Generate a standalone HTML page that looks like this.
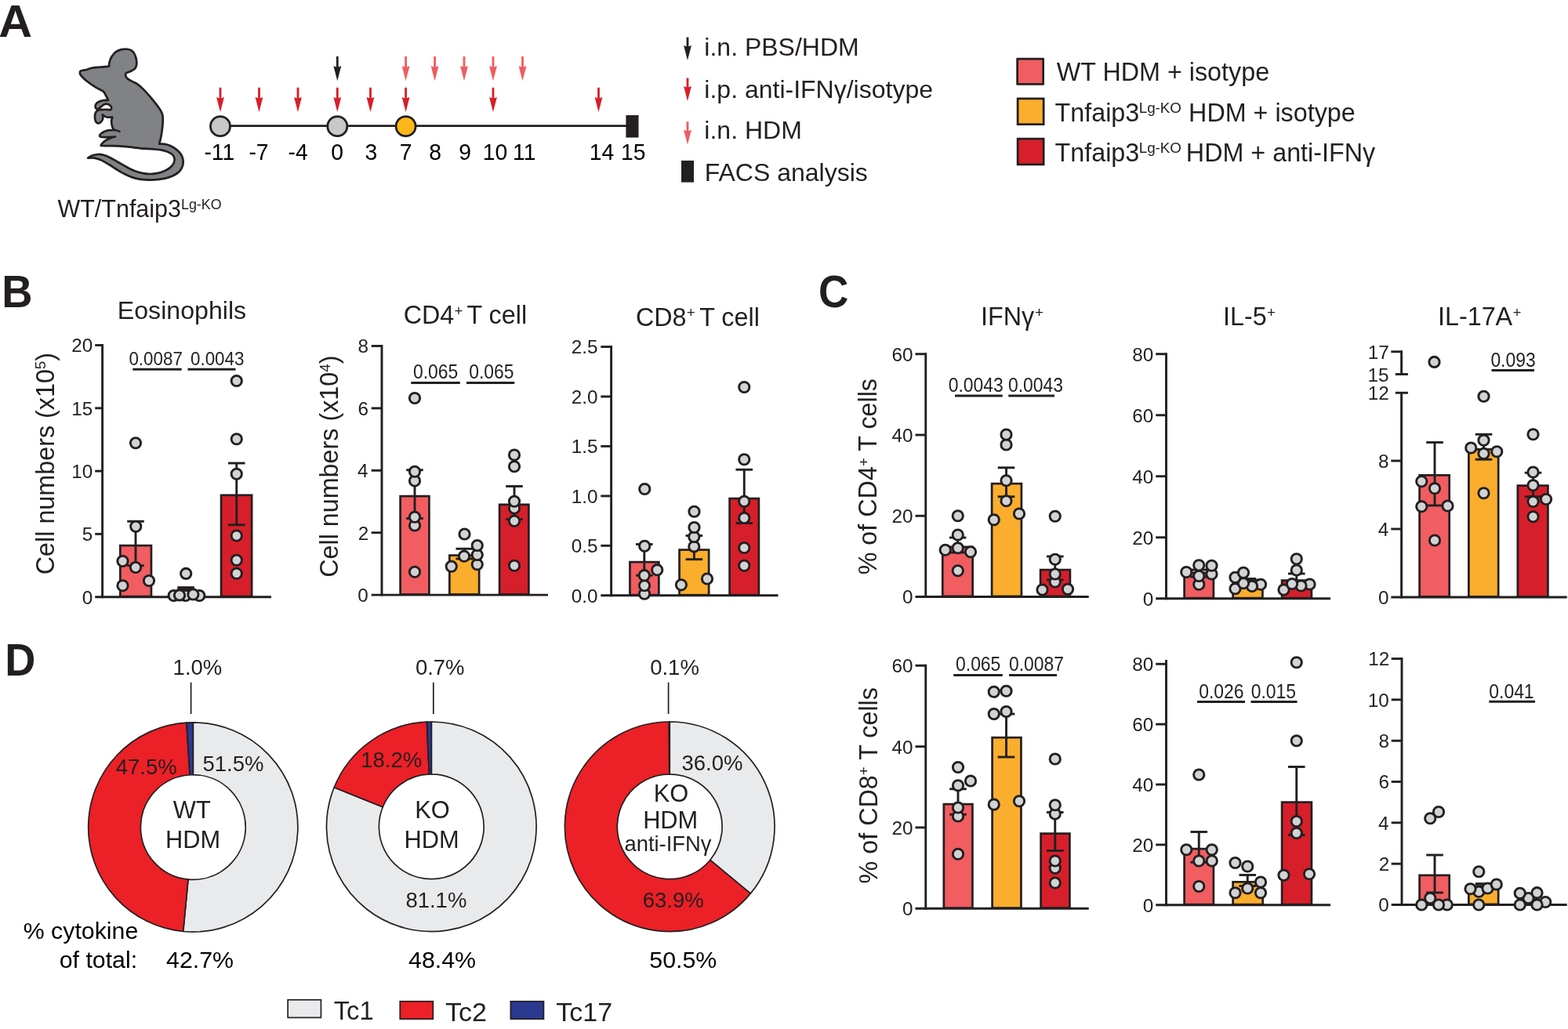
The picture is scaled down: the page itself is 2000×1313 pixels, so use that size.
<!DOCTYPE html>
<html lang="en">
<head>
<meta charset="utf-8">
<title>Figure</title>
<style>
html,body{margin:0;padding:0;background:#fff;}
body{width:2000px;height:1313px;overflow:hidden;}
svg{display:block;}
svg text{font-family:"Liberation Sans",sans-serif;fill:#231F20;}
</style>
</head>
<body>
<svg width="2000" height="1313" viewBox="0 0 2000 1313">
<rect x="0" y="0" width="2000" height="1313" fill="#ffffff"/>
<text transform="translate(-1.68 47.36) scale(1.0793 1.0418)" font-weight="bold" xml:space="preserve"><tspan x="0" y="0" font-size="54.9">A</tspan></text>
<text transform="translate(2.36 392.04) scale(0.9905 1.0457)" font-weight="bold" xml:space="preserve"><tspan x="0" y="0" font-size="54.9">B</tspan></text>
<text transform="translate(1043.97 392.32) scale(0.9675 1.0556)" font-weight="bold" xml:space="preserve"><tspan x="0" y="0" font-size="54.9">C</tspan></text>
<text transform="translate(6.14 861.8) scale(0.9873 1.0455)" font-weight="bold" xml:space="preserve"><tspan x="0" y="0" font-size="54.9">D</tspan></text>
<path d="M101.86 92.24 C102.06 91.95 102.3 90.94 103.02 90.51 C103.74 90.07 105 89.88 106.2 89.64 C107.41 89.4 108.61 89.49 110.25 89.06 C111.89 88.63 113.39 87.59 116.04 87.03 C118.69 86.48 123.27 86.05 126.17 85.73 C129.06 85.42 131.28 85.32 133.4 85.15 C135.52 84.98 137.98 84.79 138.9 84.72 C139.07 83.63 139.26 80.38 139.91 78.21 C140.56 76.04 141.48 73.7 142.8 71.7 C144.13 69.7 145.82 67.63 147.87 66.2 C149.92 64.78 152.69 63.74 155.1 63.16 C157.51 62.59 160.16 62.49 162.33 62.73 C164.5 62.97 166.53 63.48 168.12 64.61 C169.71 65.74 170.89 67.5 171.88 69.53 C172.87 71.56 173.69 74.47 174.05 76.76 C174.41 79.05 174.41 81.42 174.05 83.27 C173.69 85.13 173.11 86.62 171.88 87.9 C170.65 89.18 168.51 90.05 166.67 90.94 C164.84 91.83 161.85 92.87 160.89 93.25 C160.74 93.66 159.78 94.58 160.02 95.71 C160.26 96.85 160.98 98.73 162.33 100.05 C163.68 101.38 165.95 102.47 168.12 103.67 C170.29 104.88 172.94 105.62 175.35 107.29 C177.76 108.95 179.93 111.02 182.59 113.65 C185.24 116.28 188.37 119.68 191.27 123.06 C194.16 126.43 197.53 130.65 199.95 133.91 C202.36 137.16 204.45 140.17 205.73 142.59 C207.01 145 207.3 145.96 207.61 148.37 C207.93 150.78 207.78 153.92 207.61 157.05 C207.44 160.19 207.01 164.04 206.6 167.18 C206.19 170.31 205.73 173.11 205.15 175.86 C204.58 178.61 203.47 182.37 203.13 183.67 C204.29 183.69 207.71 183.43 210.07 183.82 C212.44 184.2 214.89 184.9 217.31 185.99 C219.72 187.07 222.37 188.64 224.54 190.33 C226.71 192.01 228.85 193.94 230.33 196.11 C231.8 198.28 232.88 200.93 233.36 203.35 C233.85 205.76 233.85 208.17 233.22 210.58 C232.59 212.99 231.29 215.74 229.6 217.81 C227.91 219.89 225.62 221.55 223.09 223.02 C220.56 224.49 217.79 225.67 214.41 226.64 C211.04 227.6 206.7 228.32 202.84 228.81 C198.98 229.29 195.12 229.53 191.27 229.53 C187.41 229.53 183.31 229.29 179.69 228.81 C176.08 228.32 172.94 227.72 169.57 226.64 C166.19 225.55 162.81 223.98 159.44 222.3 C156.06 220.61 152.69 218.56 149.31 216.51 C145.94 214.46 142.56 212.03 139.19 210 C135.81 207.97 132.19 205.76 129.06 204.36 C125.93 202.96 123.22 202.07 120.38 201.61 C117.53 201.15 113.39 201.61 111.99 201.61 C112.91 201.1 115.36 199.34 117.49 198.57 C119.61 197.8 122.31 197.12 124.72 196.98 C127.13 196.84 129.3 197 131.95 197.7 C134.61 198.4 137.5 199.63 140.63 201.18 C143.77 202.72 147.38 205.03 150.76 206.96 C154.14 208.89 157.51 210.94 160.89 212.75 C164.26 214.56 167.64 216.46 171.01 217.81 C174.39 219.16 177.76 220.15 181.14 220.85 C184.51 221.55 187.89 222.01 191.27 222.01 C194.64 222.01 198.26 221.53 201.39 220.85 C204.53 220.17 207.42 219.16 210.07 217.96 C212.72 216.75 215.38 215.28 217.31 213.62 C219.23 211.95 220.78 209.88 221.65 207.97 C222.51 206.07 222.83 204 222.51 202.19 C222.2 200.38 221.31 198.57 219.76 197.12 C218.22 195.68 215.59 194.47 213.25 193.51 C210.92 192.54 208.55 191.87 205.73 191.34 C202.91 190.81 197.9 190.49 196.33 190.33 C194.28 190.2 188.25 189.94 184.03 189.6 C179.81 189.26 175.35 188.76 171.01 188.3 C166.67 187.84 162.33 187.22 157.99 186.85 C153.65 186.49 148.83 186.25 144.97 186.13 C141.12 186.01 137.55 186.15 134.85 186.13 C132.15 186.11 129.78 186.01 128.77 185.99 L128.85 186 C128.86 185.83 128.5 185.67 128.9 185 C129.3 184.33 130.07 183.08 131.25 182 C132.43 180.92 134.29 179.52 136 178.5 C137.71 177.48 139.67 176.57 141.5 175.9 C143.33 175.23 146.08 174.73 147 174.5 C145.97 174.57 142.97 174.8 140.8 174.9 C138.63 175 136.03 175.13 134 175.1 C131.97 175.07 129.75 175.05 128.6 174.7 C127.45 174.35 127 173.73 127.1 173 C127.2 172.27 128.05 171.2 129.2 170.3 C130.35 169.4 132.28 168.28 134 167.6 C135.72 166.92 137.5 166.47 139.5 166.2 C141.5 165.93 144.92 166.03 146 166 C145.67 165.6 144.57 164.72 144 163.6 C143.43 162.48 142.9 160.92 142.6 159.3 C142.3 157.68 142.07 155.53 142.2 153.9 C142.33 152.27 143.2 150.23 143.4 149.5 C142.4 149.53 138.97 149.85 137.4 149.7 C135.83 149.55 135.12 149.17 134 148.6 C132.88 148.03 131.25 146.68 130.7 146.3 C130.8 146.87 131.32 148.55 131.3 149.7 C131.28 150.85 131.18 152.1 130.6 153.2 C130.02 154.3 128.78 155.62 127.8 156.3 C126.82 156.98 125.62 157.48 124.7 157.3 C123.78 157.12 122.9 156.23 122.3 155.2 C121.7 154.17 121.27 152.72 121.1 151.1 C120.93 149.48 120.92 147.05 121.3 145.5 C121.68 143.95 122.52 142.67 123.4 141.8 C124.28 140.93 125.33 140.63 126.6 140.3 C127.87 139.97 129.43 139.88 131 139.8 C132.57 139.72 134.28 139.75 136 139.8 C137.72 139.85 140.42 140.05 141.3 140.1 C141.45 139.72 142.28 138.68 142.2 137.8 C142.12 136.93 141.53 135.65 140.8 134.85 C140.08 134.05 138.8 133.38 137.85 133 C136.9 132.62 136.06 132.48 135.1 132.6 C134.14 132.72 133.08 133.13 132.1 133.7 C131.12 134.27 130.15 135.23 129.2 136 C128.25 136.77 127.25 137.77 126.4 138.3 C125.55 138.83 124.78 139.22 124.1 139.2 C123.42 139.18 122.72 138.73 122.3 138.2 C121.88 137.67 121.6 136.83 121.6 136 C121.6 135.17 121.8 134.08 122.3 133.2 C122.8 132.32 123.53 131.42 124.6 130.7 C125.67 129.98 127.25 129.37 128.7 128.9 C130.15 128.43 131.75 128.08 133.3 127.9 C134.85 127.72 137.22 127.82 138 127.8 C137.67 127.12 136.9 125.4 136 123.7 C135.1 122 133.48 118.92 132.6 117.6 C131.72 116.28 131.02 116.1 130.7 115.8 L130.65 115.82 C129.9 115.46 128.12 114.74 126.17 113.65 C124.21 112.57 121.34 110.88 118.93 109.31 C116.52 107.75 113.87 105.94 111.7 104.25 C109.53 102.56 107.46 100.71 105.91 99.19 C104.37 97.67 103.12 96.29 102.44 95.14 C101.77 93.98 101.96 92.72 101.86 92.24 Z" fill="#808285" stroke="#231F20" stroke-width="2.7" stroke-linejoin="round"/>
<path d="M146 166 C146.58 166.1 148.23 166.25 149.5 166.6 C150.77 166.95 152.92 167.85 153.6 168.1" fill="none" stroke="#231F20" stroke-width="2.5" stroke-linecap="butt"/>
<text transform="translate(73.41 276.6) scale(1.0000 1.0000)" xml:space="preserve"><tspan x="0" y="0" font-size="30.5">WT/Tnfaip3</tspan><tspan x="157.56" y="-9.96" font-size="17.9">Lg-KO</tspan></text>
<line x1="281" y1="160.6" x2="806" y2="160.6" stroke="#231F20" stroke-width="2.7" stroke-linecap="butt"/>
<circle cx="281" cy="161.2" r="12.5" fill="#C7C8CA" stroke="#231F20" stroke-width="2.8"/>
<circle cx="430.3" cy="161.2" r="12.5" fill="#C7C8CA" stroke="#231F20" stroke-width="2.8"/>
<circle cx="517.6" cy="161.2" r="12.5" fill="#FDB71A" stroke="#231F20" stroke-width="2.8"/>
<rect x="798.4" y="147" width="16.1" height="28.5" fill="#231F20"/>
<path d="M279.6 111.7 H282.4 V125.3 L285.9 124.1 L281 143 L276.1 124.1 L279.6 125.3 Z" fill="#D71F2B"/>
<path d="M329.1 111.7 H331.9 V125.3 L335.4 124.1 L330.5 143 L325.6 124.1 L329.1 125.3 Z" fill="#D71F2B"/>
<path d="M378.6 111.7 H381.4 V125.3 L384.9 124.1 L380 143 L375.1 124.1 L378.6 125.3 Z" fill="#D71F2B"/>
<path d="M428.9 111.7 H431.7 V125.3 L435.2 124.1 L430.3 143 L425.4 124.1 L428.9 125.3 Z" fill="#D71F2B"/>
<path d="M471.1 111.7 H473.9 V125.3 L477.4 124.1 L472.5 143 L467.6 124.1 L471.1 125.3 Z" fill="#D71F2B"/>
<path d="M516.2 111.7 H519 V125.3 L522.5 124.1 L517.6 143 L512.7 124.1 L516.2 125.3 Z" fill="#D71F2B"/>
<path d="M627.6 111.7 H630.4 V125.3 L633.9 124.1 L629 143 L624.1 124.1 L627.6 125.3 Z" fill="#D71F2B"/>
<path d="M762.1 111.7 H764.9 V125.3 L768.4 124.1 L763.5 143 L758.6 124.1 L762.1 125.3 Z" fill="#D71F2B"/>
<path d="M428.9 71.9 H431.7 V85.5 L435.2 84.3 L430.3 103.2 L425.4 84.3 L428.9 85.5 Z" fill="#231F20"/>
<path d="M516.2 71.9 H519 V85.5 L522.5 84.3 L517.6 103.2 L512.7 84.3 L516.2 85.5 Z" fill="#F15B5F"/>
<path d="M553.2 71.9 H556 V85.5 L559.5 84.3 L554.6 103.2 L549.7 84.3 L553.2 85.5 Z" fill="#F15B5F"/>
<path d="M590.6 71.9 H593.4 V85.5 L596.9 84.3 L592 103.2 L587.1 84.3 L590.6 85.5 Z" fill="#F15B5F"/>
<path d="M627.6 71.9 H630.4 V85.5 L633.9 84.3 L629 103.2 L624.1 84.3 L627.6 85.5 Z" fill="#F15B5F"/>
<path d="M665.1 71.9 H667.9 V85.5 L671.4 84.3 L666.5 103.2 L661.6 84.3 L665.1 85.5 Z" fill="#F15B5F"/>
<text transform="translate(260.43 204.2) scale(1.0000 1.0500)" style="fill:#000" xml:space="preserve"><tspan x="0" y="0" font-size="28.3">-11</tspan></text>
<text transform="translate(317.43 204.2) scale(1.0000 1.0500)" style="fill:#000" xml:space="preserve"><tspan x="0" y="0" font-size="28.3">-7</tspan></text>
<text transform="translate(367.53 204.2) scale(1.0000 1.0500)" style="fill:#000" xml:space="preserve"><tspan x="0" y="0" font-size="28.3">-4</tspan></text>
<text transform="translate(422.31 204.2) scale(1.0000 1.0500)" style="fill:#000" xml:space="preserve"><tspan x="0" y="0" font-size="28.3">0</tspan></text>
<text transform="translate(465.52 204.2) scale(1.0000 1.0500)" style="fill:#000" xml:space="preserve"><tspan x="0" y="0" font-size="28.3">3</tspan></text>
<text transform="translate(509.65 204.2) scale(1.0000 1.0500)" style="fill:#000" xml:space="preserve"><tspan x="0" y="0" font-size="28.3">7</tspan></text>
<text transform="translate(547.35 204.2) scale(1.0000 1.0500)" style="fill:#000" xml:space="preserve"><tspan x="0" y="0" font-size="28.3">8</tspan></text>
<text transform="translate(585.31 204.2) scale(1.0000 1.0500)" style="fill:#000" xml:space="preserve"><tspan x="0" y="0" font-size="28.3">9</tspan></text>
<text transform="translate(615.85 204.2) scale(1.0000 1.0500)" style="fill:#000" xml:space="preserve"><tspan x="0" y="0" font-size="28.3">10</tspan></text>
<text transform="translate(654.03 204.2) scale(1.0000 1.0500)" style="fill:#000" xml:space="preserve"><tspan x="0" y="0" font-size="28.3">11</tspan></text>
<text transform="translate(751.87 204.2) scale(1.0000 1.0500)" style="fill:#000" xml:space="preserve"><tspan x="0" y="0" font-size="28.3">14</tspan></text>
<text transform="translate(792.02 204.2) scale(1.0000 1.0500)" style="fill:#000" xml:space="preserve"><tspan x="0" y="0" font-size="28.3">15</tspan></text>
<path d="M875.6 47.5 H878.4 V59.2 L881.9 58 L877 76.9 L872.1 58 L875.6 59.2 Z" fill="#231F20"/>
<path d="M875.6 99.6 H878.4 V111.3 L881.9 110.1 L877 129 L872.1 110.1 L875.6 111.3 Z" fill="#D71F2B"/>
<path d="M875.6 155.2 H878.4 V166.9 L881.9 165.7 L877 184.6 L872.1 165.7 L875.6 166.9 Z" fill="#F15B5F"/>
<rect x="869" y="204.9" width="16" height="27.7" fill="#231F20"/>
<text transform="translate(898.34 70.85) scale(1.0000 1.0000)" xml:space="preserve"><tspan x="0" y="0" font-size="32">i.n. PBS/HDM</tspan></text>
<text transform="translate(898.34 125.25) scale(1.0000 1.0000)" xml:space="preserve"><tspan x="0" y="0" font-size="32">i.p. anti-IFN&#947;/isotype</tspan></text>
<text transform="translate(898.34 176.55) scale(1.0000 1.0000)" xml:space="preserve"><tspan x="0" y="0" font-size="32">i.n. HDM</tspan></text>
<text transform="translate(898.66 230.95) scale(1.0000 1.0000)" xml:space="preserve"><tspan x="0" y="0" font-size="32">FACS analysis</tspan></text>
<rect x="1297.6" y="75.1" width="33.05" height="32.3" fill="#F15D61" stroke="#231F20" stroke-width="2.7" stroke-linejoin="round"/>
<rect x="1298.1" y="125.85" width="33.05" height="32.8" fill="#FBAE2D" stroke="#231F20" stroke-width="2.7"/>
<rect x="1298.1" y="177.1" width="33.05" height="32.8" fill="#D61F2A" stroke="#231F20" stroke-width="2.7"/>
<text transform="translate(1347.84 103.25) scale(1.0000 1.0000)" xml:space="preserve"><tspan x="0" y="0" font-size="32.3">WT HDM + isotype</tspan></text>
<text transform="translate(1345.52 154.5) scale(1.0000 1.0000)" xml:space="preserve"><tspan x="0" y="0" font-size="32.3">Tnfaip3</tspan><tspan x="107.18" y="-10.3" font-size="18.8">Lg-KO</tspan><tspan x="161.58" y="0" font-size="32.3"> HDM + isotype</tspan></text>
<text transform="translate(1345.52 205.5) scale(1.0000 1.0000)" xml:space="preserve"><tspan x="0" y="0" font-size="32.3">Tnfaip3</tspan><tspan x="107.18" y="-10.3" font-size="18.8">Lg-KO </tspan><tspan x="167.31" y="0" font-size="32.3">HDM + anti-IFN&#947;</tspan></text>
<text transform="translate(149.75 406.8) scale(1.0000 1.0000)" xml:space="preserve"><tspan x="0" y="0" font-size="32.15">Eosinophils</tspan></text>
<text transform="translate(68.5 733.22) rotate(-90) scale(1.0000 1.0000)" xml:space="preserve"><tspan x="0" y="0" font-size="32.3">Cell numbers (x10</tspan><tspan x="262.1" y="-10.3" font-size="18.8">5</tspan><tspan x="272.55" y="0" font-size="32.3">)</tspan></text>
<rect x="153.35" y="696.1" width="39.6" height="65" fill="#F15D61" stroke="#231F20" stroke-width="2.7"/>
<rect x="282.05" y="631.85" width="39.1" height="129.25" fill="#D61F2A" stroke="#231F20" stroke-width="2.7"/>
<line x1="173" y1="665.25" x2="173" y2="721.75" stroke="#231F20" stroke-width="2.9" stroke-linecap="butt"/>
<line x1="162.2" y1="665.25" x2="183.8" y2="665.25" stroke="#231F20" stroke-width="2.9" stroke-linecap="butt"/>
<line x1="162.2" y1="721.75" x2="183.8" y2="721.75" stroke="#231F20" stroke-width="2.9" stroke-linecap="butt"/>
<line x1="237.1" y1="749.6" x2="237.1" y2="752.2" stroke="#231F20" stroke-width="2.9" stroke-linecap="butt"/>
<line x1="226.3" y1="749.6" x2="247.9" y2="749.6" stroke="#231F20" stroke-width="2.9" stroke-linecap="butt"/>
<line x1="226.3" y1="752.2" x2="247.9" y2="752.2" stroke="#231F20" stroke-width="2.9" stroke-linecap="butt"/>
<line x1="301.75" y1="591" x2="301.75" y2="669.75" stroke="#231F20" stroke-width="2.9" stroke-linecap="butt"/>
<line x1="290.95" y1="591" x2="312.55" y2="591" stroke="#231F20" stroke-width="2.9" stroke-linecap="butt"/>
<line x1="290.95" y1="669.75" x2="312.55" y2="669.75" stroke="#231F20" stroke-width="2.9" stroke-linecap="butt"/>
<line x1="130.6" y1="439.05" x2="130.6" y2="763.15" stroke="#231F20" stroke-width="2.9" stroke-linecap="butt"/>
<line x1="121.2" y1="761.7" x2="346" y2="761.7" stroke="#231F20" stroke-width="2.9" stroke-linecap="butt"/>
<line x1="121.2" y1="440.5" x2="130.6" y2="440.5" stroke="#231F20" stroke-width="2.9" stroke-linecap="butt"/>
<text transform="translate(91.24 449.4) scale(1.0000 1.0000)" xml:space="preserve"><tspan x="0" y="0" font-size="24.3">20</tspan></text>
<line x1="121.2" y1="520.8" x2="130.6" y2="520.8" stroke="#231F20" stroke-width="2.9" stroke-linecap="butt"/>
<text transform="translate(91.3 529.7) scale(1.0000 1.0000)" xml:space="preserve"><tspan x="0" y="0" font-size="24.3">15</tspan></text>
<line x1="121.2" y1="601.1" x2="130.6" y2="601.1" stroke="#231F20" stroke-width="2.9" stroke-linecap="butt"/>
<text transform="translate(91.24 610) scale(1.0000 1.0000)" xml:space="preserve"><tspan x="0" y="0" font-size="24.3">10</tspan></text>
<line x1="121.2" y1="681.4" x2="130.6" y2="681.4" stroke="#231F20" stroke-width="2.9" stroke-linecap="butt"/>
<text transform="translate(104.79 690.3) scale(1.0000 1.0000)" xml:space="preserve"><tspan x="0" y="0" font-size="24.3">5</tspan></text>
<text transform="translate(104.72 770.6) scale(1.0000 1.0000)" xml:space="preserve"><tspan x="0" y="0" font-size="24.3">0</tspan></text>
<circle cx="173" cy="565.25" r="6.65" fill="#D1D3D4" stroke="#231F20" stroke-width="2.9"/>
<circle cx="156.5" cy="747.25" r="6.65" fill="#D1D3D4" stroke="#231F20" stroke-width="2.9"/>
<circle cx="190" cy="741" r="6.65" fill="#D1D3D4" stroke="#231F20" stroke-width="2.9"/>
<circle cx="173" cy="724" r="6.65" fill="#D1D3D4" stroke="#231F20" stroke-width="2.9"/>
<circle cx="156.5" cy="716" r="6.65" fill="#D1D3D4" stroke="#231F20" stroke-width="2.9"/>
<circle cx="173.25" cy="671.75" r="6.65" fill="#D1D3D4" stroke="#231F20" stroke-width="2.9"/>
<circle cx="221.7" cy="760" r="6.65" fill="#D1D3D4" stroke="#231F20" stroke-width="2.9"/>
<circle cx="236.6" cy="760" r="6.65" fill="#D1D3D4" stroke="#231F20" stroke-width="2.9"/>
<circle cx="254.3" cy="760" r="6.65" fill="#D1D3D4" stroke="#231F20" stroke-width="2.9"/>
<circle cx="229" cy="759.4" r="6.65" fill="#D1D3D4" stroke="#231F20" stroke-width="2.9"/>
<circle cx="246.4" cy="758.5" r="6.65" fill="#D1D3D4" stroke="#231F20" stroke-width="2.9"/>
<circle cx="237.2" cy="731.9" r="6.65" fill="#D1D3D4" stroke="#231F20" stroke-width="2.9"/>
<circle cx="301.75" cy="731.75" r="6.65" fill="#D1D3D4" stroke="#231F20" stroke-width="2.9"/>
<circle cx="301.75" cy="714.75" r="6.65" fill="#D1D3D4" stroke="#231F20" stroke-width="2.9"/>
<circle cx="301.75" cy="683.5" r="6.65" fill="#D1D3D4" stroke="#231F20" stroke-width="2.9"/>
<circle cx="301.75" cy="604.75" r="6.65" fill="#D1D3D4" stroke="#231F20" stroke-width="2.9"/>
<circle cx="301.75" cy="560.25" r="6.65" fill="#D1D3D4" stroke="#231F20" stroke-width="2.9"/>
<circle cx="301.75" cy="486" r="6.65" fill="#D1D3D4" stroke="#231F20" stroke-width="2.9"/>
<text transform="translate(164.42 465.55) scale(1.0000 1.0400)" xml:space="preserve"><tspan x="0" y="0" font-size="22.4">0.0087</tspan></text>
<line x1="169.3" y1="471.2" x2="231.7" y2="471.2" stroke="#231F20" stroke-width="2.9" stroke-linecap="butt"/>
<text transform="translate(242.98 465.55) scale(1.0000 1.0400)" xml:space="preserve"><tspan x="0" y="0" font-size="22.4">0.0043</tspan></text>
<line x1="239.5" y1="471.2" x2="300.5" y2="471.2" stroke="#231F20" stroke-width="2.9" stroke-linecap="butt"/>
<text transform="translate(514.63 413) scale(1.0000 1.0000)" xml:space="preserve"><tspan x="0" y="0" font-size="32.3">CD4</tspan><tspan x="64.97" y="-10.3" font-size="18.8">+ </tspan><tspan x="80.89" y="0" font-size="32.3">T cell</tspan></text>
<text transform="translate(431.3 736.82) rotate(-90) scale(1.0000 1.0000)" xml:space="preserve"><tspan x="0" y="0" font-size="32.3">Cell numbers (x10</tspan><tspan x="262.1" y="-10.3" font-size="18.8">4</tspan><tspan x="272.55" y="0" font-size="32.3">)</tspan></text>
<rect x="510.6" y="633.1" width="36.8" height="125.4" fill="#F15D61" stroke="#231F20" stroke-width="2.7"/>
<rect x="573.35" y="708.6" width="37.8" height="49.9" fill="#FBAE2D" stroke="#231F20" stroke-width="2.7"/>
<rect x="637.1" y="643.85" width="37.3" height="114.65" fill="#D61F2A" stroke="#231F20" stroke-width="2.7"/>
<line x1="529" y1="599.75" x2="529" y2="661.5" stroke="#231F20" stroke-width="2.9" stroke-linecap="butt"/>
<line x1="518.2" y1="599.75" x2="539.8" y2="599.75" stroke="#231F20" stroke-width="2.9" stroke-linecap="butt"/>
<line x1="518.2" y1="661.5" x2="539.8" y2="661.5" stroke="#231F20" stroke-width="2.9" stroke-linecap="butt"/>
<line x1="592.25" y1="700.25" x2="592.25" y2="713" stroke="#231F20" stroke-width="2.9" stroke-linecap="butt"/>
<line x1="581.45" y1="700.25" x2="603.05" y2="700.25" stroke="#231F20" stroke-width="2.9" stroke-linecap="butt"/>
<line x1="581.45" y1="713" x2="603.05" y2="713" stroke="#231F20" stroke-width="2.9" stroke-linecap="butt"/>
<line x1="656" y1="620.5" x2="656" y2="662.5" stroke="#231F20" stroke-width="2.9" stroke-linecap="butt"/>
<line x1="645.2" y1="620.5" x2="666.8" y2="620.5" stroke="#231F20" stroke-width="2.9" stroke-linecap="butt"/>
<line x1="645.2" y1="662.5" x2="666.8" y2="662.5" stroke="#231F20" stroke-width="2.9" stroke-linecap="butt"/>
<line x1="487" y1="440.05" x2="487" y2="760.55" stroke="#231F20" stroke-width="2.9" stroke-linecap="butt"/>
<line x1="473.7" y1="759.1" x2="699" y2="759.1" stroke="#231F20" stroke-width="2.9" stroke-linecap="butt"/>
<line x1="473.7" y1="441.5" x2="487" y2="441.5" stroke="#231F20" stroke-width="2.9" stroke-linecap="butt"/>
<text transform="translate(456.45 450.4) scale(1.0000 1.0000)" xml:space="preserve"><tspan x="0" y="0" font-size="24.3">8</tspan></text>
<line x1="473.7" y1="520.9" x2="487" y2="520.9" stroke="#231F20" stroke-width="2.9" stroke-linecap="butt"/>
<text transform="translate(456.45 529.8) scale(1.0000 1.0000)" xml:space="preserve"><tspan x="0" y="0" font-size="24.3">6</tspan></text>
<line x1="473.7" y1="600.3" x2="487" y2="600.3" stroke="#231F20" stroke-width="2.9" stroke-linecap="butt"/>
<text transform="translate(456.08 609.2) scale(1.0000 1.0000)" xml:space="preserve"><tspan x="0" y="0" font-size="24.3">4</tspan></text>
<line x1="473.7" y1="679.7" x2="487" y2="679.7" stroke="#231F20" stroke-width="2.9" stroke-linecap="butt"/>
<text transform="translate(456.63 688.6) scale(1.0000 1.0000)" xml:space="preserve"><tspan x="0" y="0" font-size="24.3">2</tspan></text>
<text transform="translate(456.32 768) scale(1.0000 1.0000)" xml:space="preserve"><tspan x="0" y="0" font-size="24.3">0</tspan></text>
<circle cx="529" cy="508" r="6.65" fill="#D1D3D4" stroke="#231F20" stroke-width="2.9"/>
<circle cx="529" cy="729.75" r="6.65" fill="#D1D3D4" stroke="#231F20" stroke-width="2.9"/>
<circle cx="529" cy="670.5" r="6.65" fill="#D1D3D4" stroke="#231F20" stroke-width="2.9"/>
<circle cx="529" cy="659.75" r="6.65" fill="#D1D3D4" stroke="#231F20" stroke-width="2.9"/>
<circle cx="529" cy="613.5" r="6.65" fill="#D1D3D4" stroke="#231F20" stroke-width="2.9"/>
<circle cx="529" cy="601.75" r="6.65" fill="#D1D3D4" stroke="#231F20" stroke-width="2.9"/>
<circle cx="575.75" cy="722.75" r="6.65" fill="#D1D3D4" stroke="#231F20" stroke-width="2.9"/>
<circle cx="608.75" cy="720.25" r="6.65" fill="#D1D3D4" stroke="#231F20" stroke-width="2.9"/>
<circle cx="608.75" cy="708" r="6.65" fill="#D1D3D4" stroke="#231F20" stroke-width="2.9"/>
<circle cx="592" cy="709.75" r="6.65" fill="#D1D3D4" stroke="#231F20" stroke-width="2.9"/>
<circle cx="608.75" cy="696" r="6.65" fill="#D1D3D4" stroke="#231F20" stroke-width="2.9"/>
<circle cx="592.5" cy="681.5" r="6.65" fill="#D1D3D4" stroke="#231F20" stroke-width="2.9"/>
<circle cx="656" cy="721.75" r="6.65" fill="#D1D3D4" stroke="#231F20" stroke-width="2.9"/>
<circle cx="656" cy="664.75" r="6.65" fill="#D1D3D4" stroke="#231F20" stroke-width="2.9"/>
<circle cx="656" cy="648.5" r="6.65" fill="#D1D3D4" stroke="#231F20" stroke-width="2.9"/>
<circle cx="656" cy="639.75" r="6.65" fill="#D1D3D4" stroke="#231F20" stroke-width="2.9"/>
<circle cx="656" cy="595.25" r="6.65" fill="#D1D3D4" stroke="#231F20" stroke-width="2.9"/>
<circle cx="656" cy="580.5" r="6.65" fill="#D1D3D4" stroke="#231F20" stroke-width="2.9"/>
<text transform="translate(526.95 482.8) scale(1.0000 1.0900)" xml:space="preserve"><tspan x="0" y="0" font-size="22.9">0.065</tspan></text>
<line x1="524.25" y1="488.5" x2="586.75" y2="488.5" stroke="#231F20" stroke-width="2.9" stroke-linecap="butt"/>
<text transform="translate(598.25 482.8) scale(1.0000 1.0900)" xml:space="preserve"><tspan x="0" y="0" font-size="22.9">0.065</tspan></text>
<line x1="595" y1="488.5" x2="656.25" y2="488.5" stroke="#231F20" stroke-width="2.9" stroke-linecap="butt"/>
<text transform="translate(810.88 415.75) scale(1.0000 1.0000)" xml:space="preserve"><tspan x="0" y="0" font-size="32.3">CD8</tspan><tspan x="64.97" y="-10.3" font-size="18.8">+ </tspan><tspan x="81.39" y="0" font-size="32.3">T cell</tspan></text>
<rect x="803.45" y="717.15" width="36.9" height="42.05" fill="#F15D61" stroke="#231F20" stroke-width="2.7"/>
<rect x="866.55" y="701.55" width="37.6" height="57.65" fill="#FBAE2D" stroke="#231F20" stroke-width="2.7"/>
<rect x="930.6" y="636.1" width="37.3" height="123.1" fill="#D61F2A" stroke="#231F20" stroke-width="2.7"/>
<line x1="821.8" y1="694.5" x2="821.8" y2="734.2" stroke="#231F20" stroke-width="2.9" stroke-linecap="butt"/>
<line x1="811" y1="694.5" x2="832.6" y2="694.5" stroke="#231F20" stroke-width="2.9" stroke-linecap="butt"/>
<line x1="811" y1="734.2" x2="832.6" y2="734.2" stroke="#231F20" stroke-width="2.9" stroke-linecap="butt"/>
<line x1="885.4" y1="683.5" x2="885.4" y2="713.7" stroke="#231F20" stroke-width="2.9" stroke-linecap="butt"/>
<line x1="874.6" y1="683.5" x2="896.2" y2="683.5" stroke="#231F20" stroke-width="2.9" stroke-linecap="butt"/>
<line x1="874.6" y1="713.7" x2="896.2" y2="713.7" stroke="#231F20" stroke-width="2.9" stroke-linecap="butt"/>
<line x1="949.25" y1="599.25" x2="949.25" y2="667.5" stroke="#231F20" stroke-width="2.9" stroke-linecap="butt"/>
<line x1="938.45" y1="599.25" x2="960.05" y2="599.25" stroke="#231F20" stroke-width="2.9" stroke-linecap="butt"/>
<line x1="938.45" y1="667.5" x2="960.05" y2="667.5" stroke="#231F20" stroke-width="2.9" stroke-linecap="butt"/>
<line x1="779.6" y1="441.05" x2="779.6" y2="761.25" stroke="#231F20" stroke-width="2.9" stroke-linecap="butt"/>
<line x1="766.3" y1="759.8" x2="992.5" y2="759.8" stroke="#231F20" stroke-width="2.9" stroke-linecap="butt"/>
<line x1="766.3" y1="442.5" x2="779.6" y2="442.5" stroke="#231F20" stroke-width="2.9" stroke-linecap="butt"/>
<text transform="translate(728.7 451.4) scale(1.0000 1.0000)" xml:space="preserve"><tspan x="0" y="0" font-size="24.3">2.5</tspan></text>
<line x1="766.3" y1="506" x2="779.6" y2="506" stroke="#231F20" stroke-width="2.9" stroke-linecap="butt"/>
<text transform="translate(728.63 514.9) scale(1.0000 1.0000)" xml:space="preserve"><tspan x="0" y="0" font-size="24.3">2.0</tspan></text>
<line x1="766.3" y1="569.4" x2="779.6" y2="569.4" stroke="#231F20" stroke-width="2.9" stroke-linecap="butt"/>
<text transform="translate(728.7 578.3) scale(1.0000 1.0000)" xml:space="preserve"><tspan x="0" y="0" font-size="24.3">1.5</tspan></text>
<line x1="766.3" y1="632.9" x2="779.6" y2="632.9" stroke="#231F20" stroke-width="2.9" stroke-linecap="butt"/>
<text transform="translate(728.63 641.8) scale(1.0000 1.0000)" xml:space="preserve"><tspan x="0" y="0" font-size="24.3">1.0</tspan></text>
<line x1="766.3" y1="696.3" x2="779.6" y2="696.3" stroke="#231F20" stroke-width="2.9" stroke-linecap="butt"/>
<text transform="translate(728.7 705.2) scale(1.0000 1.0000)" xml:space="preserve"><tspan x="0" y="0" font-size="24.3">0.5</tspan></text>
<text transform="translate(728.63 768.7) scale(1.0000 1.0000)" xml:space="preserve"><tspan x="0" y="0" font-size="24.3">0.0</tspan></text>
<circle cx="822.25" cy="624" r="6.65" fill="#D1D3D4" stroke="#231F20" stroke-width="2.9"/>
<circle cx="822" cy="757.7" r="6.65" fill="#D1D3D4" stroke="#231F20" stroke-width="2.9"/>
<circle cx="822" cy="747.2" r="6.65" fill="#D1D3D4" stroke="#231F20" stroke-width="2.9"/>
<circle cx="821.8" cy="734.2" r="6.65" fill="#D1D3D4" stroke="#231F20" stroke-width="2.9"/>
<circle cx="838.25" cy="727.2" r="6.65" fill="#D1D3D4" stroke="#231F20" stroke-width="2.9"/>
<circle cx="822.2" cy="696.75" r="6.65" fill="#D1D3D4" stroke="#231F20" stroke-width="2.9"/>
<circle cx="868.9" cy="746.3" r="6.65" fill="#D1D3D4" stroke="#231F20" stroke-width="2.9"/>
<circle cx="902" cy="738.5" r="6.65" fill="#D1D3D4" stroke="#231F20" stroke-width="2.9"/>
<circle cx="885.3" cy="697.4" r="6.65" fill="#D1D3D4" stroke="#231F20" stroke-width="2.9"/>
<circle cx="885.3" cy="685" r="6.65" fill="#D1D3D4" stroke="#231F20" stroke-width="2.9"/>
<circle cx="885.5" cy="673" r="6.65" fill="#D1D3D4" stroke="#231F20" stroke-width="2.9"/>
<circle cx="885.5" cy="652.75" r="6.65" fill="#D1D3D4" stroke="#231F20" stroke-width="2.9"/>
<circle cx="949.25" cy="721.75" r="6.65" fill="#D1D3D4" stroke="#231F20" stroke-width="2.9"/>
<circle cx="949.25" cy="699" r="6.65" fill="#D1D3D4" stroke="#231F20" stroke-width="2.9"/>
<circle cx="949.25" cy="661" r="6.65" fill="#D1D3D4" stroke="#231F20" stroke-width="2.9"/>
<circle cx="949.25" cy="639.75" r="6.65" fill="#D1D3D4" stroke="#231F20" stroke-width="2.9"/>
<circle cx="949.25" cy="586.25" r="6.65" fill="#D1D3D4" stroke="#231F20" stroke-width="2.9"/>
<circle cx="949.25" cy="494" r="6.65" fill="#D1D3D4" stroke="#231F20" stroke-width="2.9"/>
<text transform="translate(1251.01 415) scale(1.0000 1.0000)" xml:space="preserve"><tspan x="0" y="0" font-size="32.3">IFN&#947;</tspan><tspan x="69.09" y="-10.3" font-size="18.8">+</tspan></text>
<text transform="translate(1117.8 733.33) rotate(-90) scale(1.0000 1.0000)" xml:space="preserve"><tspan x="0" y="0" font-size="32.3">% of CD4</tspan><tspan x="138.23" y="-10.3" font-size="18.8">+</tspan><tspan x="149.21" y="0" font-size="32.3"> T cells</tspan></text>
<rect x="1202.25" y="697.85" width="38.4" height="63.05" fill="#F15D61" stroke="#231F20" stroke-width="2.7"/>
<rect x="1265.1" y="617.1" width="37.8" height="143.8" fill="#FBAE2D" stroke="#231F20" stroke-width="2.7"/>
<rect x="1327.1" y="727.1" width="37.8" height="33.8" fill="#D61F2A" stroke="#231F20" stroke-width="2.7"/>
<line x1="1221.6" y1="686" x2="1221.6" y2="705" stroke="#231F20" stroke-width="2.9" stroke-linecap="butt"/>
<line x1="1210.8" y1="686" x2="1232.4" y2="686" stroke="#231F20" stroke-width="2.9" stroke-linecap="butt"/>
<line x1="1210.8" y1="705" x2="1232.4" y2="705" stroke="#231F20" stroke-width="2.9" stroke-linecap="butt"/>
<line x1="1283.5" y1="596.75" x2="1283.5" y2="633.75" stroke="#231F20" stroke-width="2.9" stroke-linecap="butt"/>
<line x1="1272.7" y1="596.75" x2="1294.3" y2="596.75" stroke="#231F20" stroke-width="2.9" stroke-linecap="butt"/>
<line x1="1272.7" y1="633.75" x2="1294.3" y2="633.75" stroke="#231F20" stroke-width="2.9" stroke-linecap="butt"/>
<line x1="1345.75" y1="710" x2="1345.75" y2="740" stroke="#231F20" stroke-width="2.9" stroke-linecap="butt"/>
<line x1="1334.95" y1="710" x2="1356.55" y2="710" stroke="#231F20" stroke-width="2.9" stroke-linecap="butt"/>
<line x1="1334.95" y1="740" x2="1356.55" y2="740" stroke="#231F20" stroke-width="2.9" stroke-linecap="butt"/>
<line x1="1180.75" y1="450.3" x2="1180.75" y2="762.95" stroke="#231F20" stroke-width="2.9" stroke-linecap="butt"/>
<line x1="1167.45" y1="761.5" x2="1388.75" y2="761.5" stroke="#231F20" stroke-width="2.9" stroke-linecap="butt"/>
<line x1="1167.45" y1="451.75" x2="1180.75" y2="451.75" stroke="#231F20" stroke-width="2.9" stroke-linecap="butt"/>
<text transform="translate(1137.59 460.65) scale(1.0000 1.0000)" xml:space="preserve"><tspan x="0" y="0" font-size="24.3">60</tspan></text>
<line x1="1167.45" y1="555" x2="1180.75" y2="555" stroke="#231F20" stroke-width="2.9" stroke-linecap="butt"/>
<text transform="translate(1137.59 563.9) scale(1.0000 1.0000)" xml:space="preserve"><tspan x="0" y="0" font-size="24.3">40</tspan></text>
<line x1="1167.45" y1="658.25" x2="1180.75" y2="658.25" stroke="#231F20" stroke-width="2.9" stroke-linecap="butt"/>
<text transform="translate(1137.59 667.15) scale(1.0000 1.0000)" xml:space="preserve"><tspan x="0" y="0" font-size="24.3">20</tspan></text>
<text transform="translate(1151.07 770.4) scale(1.0000 1.0000)" xml:space="preserve"><tspan x="0" y="0" font-size="24.3">0</tspan></text>
<circle cx="1221.75" cy="728.25" r="6.65" fill="#D1D3D4" stroke="#231F20" stroke-width="2.9"/>
<circle cx="1238" cy="704.25" r="6.65" fill="#D1D3D4" stroke="#231F20" stroke-width="2.9"/>
<circle cx="1205.75" cy="701.75" r="6.65" fill="#D1D3D4" stroke="#231F20" stroke-width="2.9"/>
<circle cx="1221.75" cy="699.25" r="6.65" fill="#D1D3D4" stroke="#231F20" stroke-width="2.9"/>
<circle cx="1221.75" cy="682.5" r="6.65" fill="#D1D3D4" stroke="#231F20" stroke-width="2.9"/>
<circle cx="1221.75" cy="658.25" r="6.65" fill="#D1D3D4" stroke="#231F20" stroke-width="2.9"/>
<circle cx="1267.75" cy="663.25" r="6.65" fill="#D1D3D4" stroke="#231F20" stroke-width="2.9"/>
<circle cx="1300" cy="655.5" r="6.65" fill="#D1D3D4" stroke="#231F20" stroke-width="2.9"/>
<circle cx="1283.5" cy="639.25" r="6.65" fill="#D1D3D4" stroke="#231F20" stroke-width="2.9"/>
<circle cx="1283.5" cy="613.25" r="6.65" fill="#D1D3D4" stroke="#231F20" stroke-width="2.9"/>
<circle cx="1283.5" cy="567.5" r="6.65" fill="#D1D3D4" stroke="#231F20" stroke-width="2.9"/>
<circle cx="1283.5" cy="554.5" r="6.65" fill="#D1D3D4" stroke="#231F20" stroke-width="2.9"/>
<circle cx="1329.5" cy="752.5" r="6.65" fill="#D1D3D4" stroke="#231F20" stroke-width="2.9"/>
<circle cx="1362" cy="751.75" r="6.65" fill="#D1D3D4" stroke="#231F20" stroke-width="2.9"/>
<circle cx="1345.75" cy="742.5" r="6.65" fill="#D1D3D4" stroke="#231F20" stroke-width="2.9"/>
<circle cx="1345.75" cy="732.5" r="6.65" fill="#D1D3D4" stroke="#231F20" stroke-width="2.9"/>
<circle cx="1345.75" cy="713.75" r="6.65" fill="#D1D3D4" stroke="#231F20" stroke-width="2.9"/>
<circle cx="1345.75" cy="658.75" r="6.65" fill="#D1D3D4" stroke="#231F20" stroke-width="2.9"/>
<text transform="translate(1209.72 499.7) scale(1.0000 1.0900)" xml:space="preserve"><tspan x="0" y="0" font-size="22.9">0.0043</tspan></text>
<line x1="1218" y1="505" x2="1278.75" y2="505" stroke="#231F20" stroke-width="2.9" stroke-linecap="butt"/>
<text transform="translate(1286.02 499.7) scale(1.0000 1.0900)" xml:space="preserve"><tspan x="0" y="0" font-size="22.9">0.0043</tspan></text>
<line x1="1286.25" y1="505" x2="1345" y2="505" stroke="#231F20" stroke-width="2.9" stroke-linecap="butt"/>
<text transform="translate(1560.01 415) scale(1.0000 1.0000)" xml:space="preserve"><tspan x="0" y="0" font-size="32.3">IL-5</tspan><tspan x="56.09" y="-10.3" font-size="18.8">+</tspan></text>
<rect x="1510.6" y="730.85" width="37.3" height="32.3" fill="#F15D61" stroke="#231F20" stroke-width="2.7"/>
<rect x="1572.6" y="740.1" width="37.8" height="23.05" fill="#FBAE2D" stroke="#231F20" stroke-width="2.7"/>
<rect x="1635.1" y="740.6" width="37.8" height="22.55" fill="#D61F2A" stroke="#231F20" stroke-width="2.7"/>
<line x1="1529.25" y1="727" x2="1529.25" y2="736" stroke="#231F20" stroke-width="2.9" stroke-linecap="butt"/>
<line x1="1518.45" y1="727" x2="1540.05" y2="727" stroke="#231F20" stroke-width="2.9" stroke-linecap="butt"/>
<line x1="1518.45" y1="736" x2="1540.05" y2="736" stroke="#231F20" stroke-width="2.9" stroke-linecap="butt"/>
<line x1="1591.5" y1="738.5" x2="1591.5" y2="745" stroke="#231F20" stroke-width="2.9" stroke-linecap="butt"/>
<line x1="1580.7" y1="738.5" x2="1602.3" y2="738.5" stroke="#231F20" stroke-width="2.9" stroke-linecap="butt"/>
<line x1="1580.7" y1="745" x2="1602.3" y2="745" stroke="#231F20" stroke-width="2.9" stroke-linecap="butt"/>
<line x1="1653.75" y1="732" x2="1653.75" y2="746" stroke="#231F20" stroke-width="2.9" stroke-linecap="butt"/>
<line x1="1642.95" y1="732" x2="1664.55" y2="732" stroke="#231F20" stroke-width="2.9" stroke-linecap="butt"/>
<line x1="1642.95" y1="746" x2="1664.55" y2="746" stroke="#231F20" stroke-width="2.9" stroke-linecap="butt"/>
<line x1="1487.5" y1="450.3" x2="1487.5" y2="765.2" stroke="#231F20" stroke-width="2.9" stroke-linecap="butt"/>
<line x1="1474.2" y1="763.75" x2="1697" y2="763.75" stroke="#231F20" stroke-width="2.9" stroke-linecap="butt"/>
<line x1="1474.2" y1="451.75" x2="1487.5" y2="451.75" stroke="#231F20" stroke-width="2.9" stroke-linecap="butt"/>
<text transform="translate(1444.34 460.65) scale(1.0000 1.0000)" xml:space="preserve"><tspan x="0" y="0" font-size="24.3">80</tspan></text>
<line x1="1474.2" y1="529.75" x2="1487.5" y2="529.75" stroke="#231F20" stroke-width="2.9" stroke-linecap="butt"/>
<text transform="translate(1444.34 538.65) scale(1.0000 1.0000)" xml:space="preserve"><tspan x="0" y="0" font-size="24.3">60</tspan></text>
<line x1="1474.2" y1="607.75" x2="1487.5" y2="607.75" stroke="#231F20" stroke-width="2.9" stroke-linecap="butt"/>
<text transform="translate(1444.34 616.65) scale(1.0000 1.0000)" xml:space="preserve"><tspan x="0" y="0" font-size="24.3">40</tspan></text>
<line x1="1474.2" y1="685.75" x2="1487.5" y2="685.75" stroke="#231F20" stroke-width="2.9" stroke-linecap="butt"/>
<text transform="translate(1444.34 694.65) scale(1.0000 1.0000)" xml:space="preserve"><tspan x="0" y="0" font-size="24.3">20</tspan></text>
<text transform="translate(1457.82 772.65) scale(1.0000 1.0000)" xml:space="preserve"><tspan x="0" y="0" font-size="24.3">0</tspan></text>
<circle cx="1529.25" cy="745.75" r="6.65" fill="#D1D3D4" stroke="#231F20" stroke-width="2.9"/>
<circle cx="1529.25" cy="735" r="6.65" fill="#D1D3D4" stroke="#231F20" stroke-width="2.9"/>
<circle cx="1545.5" cy="732.5" r="6.65" fill="#D1D3D4" stroke="#231F20" stroke-width="2.9"/>
<circle cx="1545.5" cy="721.75" r="6.65" fill="#D1D3D4" stroke="#231F20" stroke-width="2.9"/>
<circle cx="1529.25" cy="721.25" r="6.65" fill="#D1D3D4" stroke="#231F20" stroke-width="2.9"/>
<circle cx="1513.25" cy="730" r="6.65" fill="#D1D3D4" stroke="#231F20" stroke-width="2.9"/>
<circle cx="1575.5" cy="751.25" r="6.65" fill="#D1D3D4" stroke="#231F20" stroke-width="2.9"/>
<circle cx="1608" cy="745.75" r="6.65" fill="#D1D3D4" stroke="#231F20" stroke-width="2.9"/>
<circle cx="1597" cy="748" r="6.65" fill="#D1D3D4" stroke="#231F20" stroke-width="2.9"/>
<circle cx="1586" cy="744.25" r="6.65" fill="#D1D3D4" stroke="#231F20" stroke-width="2.9"/>
<circle cx="1575.5" cy="736.75" r="6.65" fill="#D1D3D4" stroke="#231F20" stroke-width="2.9"/>
<circle cx="1586" cy="730.75" r="6.65" fill="#D1D3D4" stroke="#231F20" stroke-width="2.9"/>
<circle cx="1637.5" cy="752.5" r="6.65" fill="#D1D3D4" stroke="#231F20" stroke-width="2.9"/>
<circle cx="1670.5" cy="745.5" r="6.65" fill="#D1D3D4" stroke="#231F20" stroke-width="2.9"/>
<circle cx="1659.5" cy="747.5" r="6.65" fill="#D1D3D4" stroke="#231F20" stroke-width="2.9"/>
<circle cx="1648" cy="745" r="6.65" fill="#D1D3D4" stroke="#231F20" stroke-width="2.9"/>
<circle cx="1653.75" cy="727.5" r="6.65" fill="#D1D3D4" stroke="#231F20" stroke-width="2.9"/>
<circle cx="1653.75" cy="713.25" r="6.65" fill="#D1D3D4" stroke="#231F20" stroke-width="2.9"/>
<text transform="translate(1834.01 415) scale(1.0000 1.0000)" xml:space="preserve"><tspan x="0" y="0" font-size="32.3">IL-17A</tspan><tspan x="95.49" y="-10.3" font-size="18.8">+</tspan></text>
<line x1="1787.6" y1="447.3" x2="1787.6" y2="477.5" stroke="#231F20" stroke-width="2.9" stroke-linecap="butt"/>
<line x1="1787.6" y1="501.25" x2="1787.6" y2="763.45" stroke="#231F20" stroke-width="2.9" stroke-linecap="butt"/>
<line x1="1774.3" y1="448.75" x2="1787.6" y2="448.75" stroke="#231F20" stroke-width="2.9" stroke-linecap="butt"/>
<line x1="1779.8" y1="477.5" x2="1795.9" y2="477.5" stroke="#231F20" stroke-width="2.9" stroke-linecap="butt"/>
<line x1="1779.8" y1="501.25" x2="1795.9" y2="501.25" stroke="#231F20" stroke-width="2.9" stroke-linecap="butt"/>
<text transform="translate(1744.84 458) scale(1.0000 1.0000)" xml:space="preserve"><tspan x="0" y="0" font-size="24.3">17</tspan></text>
<text transform="translate(1744.6 487.2) scale(1.0000 1.0000)" xml:space="preserve"><tspan x="0" y="0" font-size="24.3">15</tspan></text>
<text transform="translate(1744.84 509.7) scale(1.0000 1.0000)" xml:space="preserve"><tspan x="0" y="0" font-size="24.3">12</tspan></text>
<rect x="1810.6" y="606.35" width="38.05" height="155.05" fill="#F15D61" stroke="#231F20" stroke-width="2.7"/>
<rect x="1873.35" y="573.35" width="37.8" height="188.05" fill="#FBAE2D" stroke="#231F20" stroke-width="2.7"/>
<rect x="1935.85" y="619.6" width="38.55" height="141.8" fill="#D61F2A" stroke="#231F20" stroke-width="2.7"/>
<line x1="1830" y1="564.5" x2="1830" y2="645" stroke="#231F20" stroke-width="2.9" stroke-linecap="butt"/>
<line x1="1819.2" y1="564.5" x2="1840.8" y2="564.5" stroke="#231F20" stroke-width="2.9" stroke-linecap="butt"/>
<line x1="1819.2" y1="645" x2="1840.8" y2="645" stroke="#231F20" stroke-width="2.9" stroke-linecap="butt"/>
<line x1="1892.5" y1="554.25" x2="1892.5" y2="586.25" stroke="#231F20" stroke-width="2.9" stroke-linecap="butt"/>
<line x1="1881.7" y1="554.25" x2="1903.3" y2="554.25" stroke="#231F20" stroke-width="2.9" stroke-linecap="butt"/>
<line x1="1881.7" y1="586.25" x2="1903.3" y2="586.25" stroke="#231F20" stroke-width="2.9" stroke-linecap="butt"/>
<line x1="1955.5" y1="603.25" x2="1955.5" y2="633.75" stroke="#231F20" stroke-width="2.9" stroke-linecap="butt"/>
<line x1="1944.7" y1="603.25" x2="1966.3" y2="603.25" stroke="#231F20" stroke-width="2.9" stroke-linecap="butt"/>
<line x1="1944.7" y1="633.75" x2="1966.3" y2="633.75" stroke="#231F20" stroke-width="2.9" stroke-linecap="butt"/>
<line x1="1774.3" y1="762" x2="1998.75" y2="762" stroke="#231F20" stroke-width="2.9" stroke-linecap="butt"/>
<line x1="1774.3" y1="588" x2="1787.6" y2="588" stroke="#231F20" stroke-width="2.9" stroke-linecap="butt"/>
<text transform="translate(1758.05 596.9) scale(1.0000 1.0000)" xml:space="preserve"><tspan x="0" y="0" font-size="24.3">8</tspan></text>
<line x1="1774.3" y1="675" x2="1787.6" y2="675" stroke="#231F20" stroke-width="2.9" stroke-linecap="butt"/>
<text transform="translate(1757.68 683.9) scale(1.0000 1.0000)" xml:space="preserve"><tspan x="0" y="0" font-size="24.3">4</tspan></text>
<text transform="translate(1757.92 770.9) scale(1.0000 1.0000)" xml:space="preserve"><tspan x="0" y="0" font-size="24.3">0</tspan></text>
<circle cx="1829.5" cy="461.9" r="6.65" fill="#D1D3D4" stroke="#231F20" stroke-width="2.9"/>
<circle cx="1830" cy="689.5" r="6.65" fill="#D1D3D4" stroke="#231F20" stroke-width="2.9"/>
<circle cx="1813.25" cy="646.25" r="6.65" fill="#D1D3D4" stroke="#231F20" stroke-width="2.9"/>
<circle cx="1846.5" cy="645.5" r="6.65" fill="#D1D3D4" stroke="#231F20" stroke-width="2.9"/>
<circle cx="1830" cy="623.25" r="6.65" fill="#D1D3D4" stroke="#231F20" stroke-width="2.9"/>
<circle cx="1813.25" cy="614.25" r="6.65" fill="#D1D3D4" stroke="#231F20" stroke-width="2.9"/>
<circle cx="1892.5" cy="629.25" r="6.65" fill="#D1D3D4" stroke="#231F20" stroke-width="2.9"/>
<circle cx="1892.5" cy="578.75" r="6.65" fill="#D1D3D4" stroke="#231F20" stroke-width="2.9"/>
<circle cx="1909.25" cy="576.25" r="6.65" fill="#D1D3D4" stroke="#231F20" stroke-width="2.9"/>
<circle cx="1876.25" cy="571.5" r="6.65" fill="#D1D3D4" stroke="#231F20" stroke-width="2.9"/>
<circle cx="1892.5" cy="561.75" r="6.65" fill="#D1D3D4" stroke="#231F20" stroke-width="2.9"/>
<circle cx="1892.5" cy="505.75" r="6.65" fill="#D1D3D4" stroke="#231F20" stroke-width="2.9"/>
<circle cx="1955.5" cy="659.25" r="6.65" fill="#D1D3D4" stroke="#231F20" stroke-width="2.9"/>
<circle cx="1955.5" cy="640" r="6.65" fill="#D1D3D4" stroke="#231F20" stroke-width="2.9"/>
<circle cx="1972" cy="637" r="6.65" fill="#D1D3D4" stroke="#231F20" stroke-width="2.9"/>
<circle cx="1955.5" cy="619.25" r="6.65" fill="#D1D3D4" stroke="#231F20" stroke-width="2.9"/>
<circle cx="1955.5" cy="602.5" r="6.65" fill="#D1D3D4" stroke="#231F20" stroke-width="2.9"/>
<circle cx="1955.5" cy="554.25" r="6.65" fill="#D1D3D4" stroke="#231F20" stroke-width="2.9"/>
<text transform="translate(1901.38 467.8) scale(1.0000 1.0900)" xml:space="preserve"><tspan x="0" y="0" font-size="22.9">0.093</tspan></text>
<line x1="1902.5" y1="472.5" x2="1957" y2="472.5" stroke="#231F20" stroke-width="2.9" stroke-linecap="butt"/>
<text transform="translate(1118.5 1127.43) rotate(-90) scale(1.0000 1.0000)" xml:space="preserve"><tspan x="0" y="0" font-size="32.3">% of CD8</tspan><tspan x="138.23" y="-10.3" font-size="18.8">+</tspan><tspan x="149.21" y="0" font-size="32.3"> T cells</tspan></text>
<rect x="1203.85" y="1026.1" width="36.55" height="132.55" fill="#F15D61" stroke="#231F20" stroke-width="2.7"/>
<rect x="1265.6" y="941.1" width="36.8" height="217.55" fill="#FBAE2D" stroke="#231F20" stroke-width="2.7"/>
<rect x="1327.6" y="1063.6" width="36.8" height="95.05" fill="#D61F2A" stroke="#231F20" stroke-width="2.7"/>
<line x1="1222" y1="1006.75" x2="1222" y2="1039.25" stroke="#231F20" stroke-width="2.9" stroke-linecap="butt"/>
<line x1="1211.2" y1="1006.75" x2="1232.8" y2="1006.75" stroke="#231F20" stroke-width="2.9" stroke-linecap="butt"/>
<line x1="1211.2" y1="1039.25" x2="1232.8" y2="1039.25" stroke="#231F20" stroke-width="2.9" stroke-linecap="butt"/>
<line x1="1283.5" y1="911" x2="1283.5" y2="966" stroke="#231F20" stroke-width="2.9" stroke-linecap="butt"/>
<line x1="1272.7" y1="911" x2="1294.3" y2="911" stroke="#231F20" stroke-width="2.9" stroke-linecap="butt"/>
<line x1="1272.7" y1="966" x2="1294.3" y2="966" stroke="#231F20" stroke-width="2.9" stroke-linecap="butt"/>
<line x1="1345.75" y1="1036.5" x2="1345.75" y2="1085.5" stroke="#231F20" stroke-width="2.9" stroke-linecap="butt"/>
<line x1="1334.95" y1="1036.5" x2="1356.55" y2="1036.5" stroke="#231F20" stroke-width="2.9" stroke-linecap="butt"/>
<line x1="1334.95" y1="1085.5" x2="1356.55" y2="1085.5" stroke="#231F20" stroke-width="2.9" stroke-linecap="butt"/>
<line x1="1180.75" y1="847.8" x2="1180.75" y2="1160.7" stroke="#231F20" stroke-width="2.9" stroke-linecap="butt"/>
<line x1="1167.45" y1="1159.25" x2="1388.75" y2="1159.25" stroke="#231F20" stroke-width="2.9" stroke-linecap="butt"/>
<line x1="1167.45" y1="849.25" x2="1180.75" y2="849.25" stroke="#231F20" stroke-width="2.9" stroke-linecap="butt"/>
<text transform="translate(1137.59 858.15) scale(1.0000 1.0000)" xml:space="preserve"><tspan x="0" y="0" font-size="24.3">60</tspan></text>
<line x1="1167.45" y1="952.6" x2="1180.75" y2="952.6" stroke="#231F20" stroke-width="2.9" stroke-linecap="butt"/>
<text transform="translate(1137.59 961.5) scale(1.0000 1.0000)" xml:space="preserve"><tspan x="0" y="0" font-size="24.3">40</tspan></text>
<line x1="1167.45" y1="1055.9" x2="1180.75" y2="1055.9" stroke="#231F20" stroke-width="2.9" stroke-linecap="butt"/>
<text transform="translate(1137.59 1064.8) scale(1.0000 1.0000)" xml:space="preserve"><tspan x="0" y="0" font-size="24.3">20</tspan></text>
<text transform="translate(1151.07 1168.15) scale(1.0000 1.0000)" xml:space="preserve"><tspan x="0" y="0" font-size="24.3">0</tspan></text>
<circle cx="1222" cy="1089.75" r="6.65" fill="#D1D3D4" stroke="#231F20" stroke-width="2.9"/>
<circle cx="1222" cy="1041.5" r="6.65" fill="#D1D3D4" stroke="#231F20" stroke-width="2.9"/>
<circle cx="1222" cy="1030.5" r="6.65" fill="#D1D3D4" stroke="#231F20" stroke-width="2.9"/>
<circle cx="1222" cy="1002.25" r="6.65" fill="#D1D3D4" stroke="#231F20" stroke-width="2.9"/>
<circle cx="1238" cy="996.5" r="6.65" fill="#D1D3D4" stroke="#231F20" stroke-width="2.9"/>
<circle cx="1222" cy="979" r="6.65" fill="#D1D3D4" stroke="#231F20" stroke-width="2.9"/>
<circle cx="1267.75" cy="1026.5" r="6.65" fill="#D1D3D4" stroke="#231F20" stroke-width="2.9"/>
<circle cx="1300" cy="1022.25" r="6.65" fill="#D1D3D4" stroke="#231F20" stroke-width="2.9"/>
<circle cx="1267.75" cy="911" r="6.65" fill="#D1D3D4" stroke="#231F20" stroke-width="2.9"/>
<circle cx="1283.5" cy="908" r="6.65" fill="#D1D3D4" stroke="#231F20" stroke-width="2.9"/>
<circle cx="1267.75" cy="882.75" r="6.65" fill="#D1D3D4" stroke="#231F20" stroke-width="2.9"/>
<circle cx="1283.5" cy="881.75" r="6.65" fill="#D1D3D4" stroke="#231F20" stroke-width="2.9"/>
<circle cx="1345.75" cy="1126.5" r="6.65" fill="#D1D3D4" stroke="#231F20" stroke-width="2.9"/>
<circle cx="1345.75" cy="1107.75" r="6.65" fill="#D1D3D4" stroke="#231F20" stroke-width="2.9"/>
<circle cx="1345.75" cy="1098.5" r="6.65" fill="#D1D3D4" stroke="#231F20" stroke-width="2.9"/>
<circle cx="1345.75" cy="1038.5" r="6.65" fill="#D1D3D4" stroke="#231F20" stroke-width="2.9"/>
<circle cx="1345.75" cy="1027.25" r="6.65" fill="#D1D3D4" stroke="#231F20" stroke-width="2.9"/>
<circle cx="1345.75" cy="968.5" r="6.65" fill="#D1D3D4" stroke="#231F20" stroke-width="2.9"/>
<text transform="translate(1219.05 855.8) scale(1.0000 1.0900)" xml:space="preserve"><tspan x="0" y="0" font-size="22.9">0.065</tspan></text>
<line x1="1216.25" y1="861.5" x2="1278.75" y2="861.5" stroke="#231F20" stroke-width="2.9" stroke-linecap="butt"/>
<text transform="translate(1286.91 855.8) scale(1.0000 1.0900)" xml:space="preserve"><tspan x="0" y="0" font-size="22.9">0.0087</tspan></text>
<line x1="1287" y1="861.5" x2="1348" y2="861.5" stroke="#231F20" stroke-width="2.9" stroke-linecap="butt"/>
<rect x="1510.6" y="1083.1" width="37.3" height="71.05" fill="#F15D61" stroke="#231F20" stroke-width="2.7"/>
<rect x="1572.6" y="1125.35" width="38.05" height="28.8" fill="#FBAE2D" stroke="#231F20" stroke-width="2.7"/>
<rect x="1635.1" y="1023.6" width="37.8" height="130.55" fill="#D61F2A" stroke="#231F20" stroke-width="2.7"/>
<line x1="1529.25" y1="1061.5" x2="1529.25" y2="1100.25" stroke="#231F20" stroke-width="2.9" stroke-linecap="butt"/>
<line x1="1518.45" y1="1061.5" x2="1540.05" y2="1061.5" stroke="#231F20" stroke-width="2.9" stroke-linecap="butt"/>
<line x1="1518.45" y1="1100.25" x2="1540.05" y2="1100.25" stroke="#231F20" stroke-width="2.9" stroke-linecap="butt"/>
<line x1="1591.25" y1="1116.5" x2="1591.25" y2="1130.5" stroke="#231F20" stroke-width="2.9" stroke-linecap="butt"/>
<line x1="1580.45" y1="1116.5" x2="1602.05" y2="1116.5" stroke="#231F20" stroke-width="2.9" stroke-linecap="butt"/>
<line x1="1580.45" y1="1130.5" x2="1602.05" y2="1130.5" stroke="#231F20" stroke-width="2.9" stroke-linecap="butt"/>
<line x1="1653.75" y1="978.5" x2="1653.75" y2="1065.5" stroke="#231F20" stroke-width="2.9" stroke-linecap="butt"/>
<line x1="1642.95" y1="978.5" x2="1664.55" y2="978.5" stroke="#231F20" stroke-width="2.9" stroke-linecap="butt"/>
<line x1="1642.95" y1="1065.5" x2="1664.55" y2="1065.5" stroke="#231F20" stroke-width="2.9" stroke-linecap="butt"/>
<line x1="1487.5" y1="842.05" x2="1487.5" y2="1156.2" stroke="#231F20" stroke-width="2.9" stroke-linecap="butt"/>
<line x1="1474.2" y1="1154.75" x2="1697" y2="1154.75" stroke="#231F20" stroke-width="2.9" stroke-linecap="butt"/>
<line x1="1474.2" y1="847.25" x2="1487.5" y2="847.25" stroke="#231F20" stroke-width="2.9" stroke-linecap="butt"/>
<text transform="translate(1444.34 856.15) scale(1.0000 1.0000)" xml:space="preserve"><tspan x="0" y="0" font-size="24.3">80</tspan></text>
<line x1="1474.2" y1="924.1" x2="1487.5" y2="924.1" stroke="#231F20" stroke-width="2.9" stroke-linecap="butt"/>
<text transform="translate(1444.34 933) scale(1.0000 1.0000)" xml:space="preserve"><tspan x="0" y="0" font-size="24.3">60</tspan></text>
<line x1="1474.2" y1="1001" x2="1487.5" y2="1001" stroke="#231F20" stroke-width="2.9" stroke-linecap="butt"/>
<text transform="translate(1444.34 1009.9) scale(1.0000 1.0000)" xml:space="preserve"><tspan x="0" y="0" font-size="24.3">40</tspan></text>
<line x1="1474.2" y1="1077.9" x2="1487.5" y2="1077.9" stroke="#231F20" stroke-width="2.9" stroke-linecap="butt"/>
<text transform="translate(1444.34 1086.8) scale(1.0000 1.0000)" xml:space="preserve"><tspan x="0" y="0" font-size="24.3">20</tspan></text>
<text transform="translate(1457.82 1163.65) scale(1.0000 1.0000)" xml:space="preserve"><tspan x="0" y="0" font-size="24.3">0</tspan></text>
<circle cx="1529.25" cy="1131" r="6.65" fill="#D1D3D4" stroke="#231F20" stroke-width="2.9"/>
<circle cx="1545.75" cy="1098.5" r="6.65" fill="#D1D3D4" stroke="#231F20" stroke-width="2.9"/>
<circle cx="1529.25" cy="1098.5" r="6.65" fill="#D1D3D4" stroke="#231F20" stroke-width="2.9"/>
<circle cx="1545.75" cy="1084.25" r="6.65" fill="#D1D3D4" stroke="#231F20" stroke-width="2.9"/>
<circle cx="1513.25" cy="1084.25" r="6.65" fill="#D1D3D4" stroke="#231F20" stroke-width="2.9"/>
<circle cx="1529.25" cy="988.5" r="6.65" fill="#D1D3D4" stroke="#231F20" stroke-width="2.9"/>
<circle cx="1575.5" cy="1139.25" r="6.65" fill="#D1D3D4" stroke="#231F20" stroke-width="2.9"/>
<circle cx="1608" cy="1139.25" r="6.65" fill="#D1D3D4" stroke="#231F20" stroke-width="2.9"/>
<circle cx="1591.25" cy="1133.5" r="6.65" fill="#D1D3D4" stroke="#231F20" stroke-width="2.9"/>
<circle cx="1608" cy="1125.5" r="6.65" fill="#D1D3D4" stroke="#231F20" stroke-width="2.9"/>
<circle cx="1591.25" cy="1105.5" r="6.65" fill="#D1D3D4" stroke="#231F20" stroke-width="2.9"/>
<circle cx="1575.5" cy="1101" r="6.65" fill="#D1D3D4" stroke="#231F20" stroke-width="2.9"/>
<circle cx="1637.5" cy="1116.75" r="6.65" fill="#D1D3D4" stroke="#231F20" stroke-width="2.9"/>
<circle cx="1670" cy="1115.25" r="6.65" fill="#D1D3D4" stroke="#231F20" stroke-width="2.9"/>
<circle cx="1653.75" cy="1063" r="6.65" fill="#D1D3D4" stroke="#231F20" stroke-width="2.9"/>
<circle cx="1653.75" cy="1048" r="6.65" fill="#D1D3D4" stroke="#231F20" stroke-width="2.9"/>
<circle cx="1653.75" cy="945.25" r="6.65" fill="#D1D3D4" stroke="#231F20" stroke-width="2.9"/>
<circle cx="1653.75" cy="845.25" r="6.65" fill="#D1D3D4" stroke="#231F20" stroke-width="2.9"/>
<text transform="translate(1529.17 890.55) scale(1.0000 1.0900)" xml:space="preserve"><tspan x="0" y="0" font-size="22.9">0.026</tspan></text>
<line x1="1527" y1="895.5" x2="1588" y2="895.5" stroke="#231F20" stroke-width="2.9" stroke-linecap="butt"/>
<text transform="translate(1595.75 890.55) scale(1.0000 1.0900)" xml:space="preserve"><tspan x="0" y="0" font-size="22.9">0.015</tspan></text>
<line x1="1595.5" y1="895.5" x2="1654.5" y2="895.5" stroke="#231F20" stroke-width="2.9" stroke-linecap="butt"/>
<rect x="1810.6" y="1116.85" width="38.05" height="37.05" fill="#F15D61" stroke="#231F20" stroke-width="2.7"/>
<rect x="1873.35" y="1133.35" width="37.8" height="20.55" fill="#FBAE2D" stroke="#231F20" stroke-width="2.7"/>
<line x1="1830" y1="1091" x2="1830" y2="1139" stroke="#231F20" stroke-width="2.9" stroke-linecap="butt"/>
<line x1="1819.2" y1="1091" x2="1840.8" y2="1091" stroke="#231F20" stroke-width="2.9" stroke-linecap="butt"/>
<line x1="1819.2" y1="1139" x2="1840.8" y2="1139" stroke="#231F20" stroke-width="2.9" stroke-linecap="butt"/>
<line x1="1892.5" y1="1127.6" x2="1892.5" y2="1130.6" stroke="#231F20" stroke-width="2.9" stroke-linecap="butt"/>
<line x1="1881.7" y1="1127.6" x2="1903.3" y2="1127.6" stroke="#231F20" stroke-width="2.9" stroke-linecap="butt"/>
<line x1="1881.7" y1="1130.6" x2="1903.3" y2="1130.6" stroke="#231F20" stroke-width="2.9" stroke-linecap="butt"/>
<line x1="1788" y1="839.05" x2="1788" y2="1155.95" stroke="#231F20" stroke-width="2.9" stroke-linecap="butt"/>
<line x1="1774.7" y1="1154.5" x2="1998.75" y2="1154.5" stroke="#231F20" stroke-width="2.9" stroke-linecap="butt"/>
<line x1="1774.7" y1="840.5" x2="1788" y2="840.5" stroke="#231F20" stroke-width="2.9" stroke-linecap="butt"/>
<text transform="translate(1745.14 849.4) scale(1.0000 1.0000)" xml:space="preserve"><tspan x="0" y="0" font-size="24.3">12</tspan></text>
<line x1="1774.7" y1="892.8" x2="1788" y2="892.8" stroke="#231F20" stroke-width="2.9" stroke-linecap="butt"/>
<text transform="translate(1744.84 901.7) scale(1.0000 1.0000)" xml:space="preserve"><tspan x="0" y="0" font-size="24.3">10</tspan></text>
<line x1="1774.7" y1="945.2" x2="1788" y2="945.2" stroke="#231F20" stroke-width="2.9" stroke-linecap="butt"/>
<text transform="translate(1758.45 954.1) scale(1.0000 1.0000)" xml:space="preserve"><tspan x="0" y="0" font-size="24.3">8</tspan></text>
<line x1="1774.7" y1="997.5" x2="1788" y2="997.5" stroke="#231F20" stroke-width="2.9" stroke-linecap="butt"/>
<text transform="translate(1758.45 1006.4) scale(1.0000 1.0000)" xml:space="preserve"><tspan x="0" y="0" font-size="24.3">6</tspan></text>
<line x1="1774.7" y1="1049.8" x2="1788" y2="1049.8" stroke="#231F20" stroke-width="2.9" stroke-linecap="butt"/>
<text transform="translate(1758.08 1058.7) scale(1.0000 1.0000)" xml:space="preserve"><tspan x="0" y="0" font-size="24.3">4</tspan></text>
<line x1="1774.7" y1="1102.2" x2="1788" y2="1102.2" stroke="#231F20" stroke-width="2.9" stroke-linecap="butt"/>
<text transform="translate(1758.63 1111.1) scale(1.0000 1.0000)" xml:space="preserve"><tspan x="0" y="0" font-size="24.3">2</tspan></text>
<text transform="translate(1758.32 1163.4) scale(1.0000 1.0000)" xml:space="preserve"><tspan x="0" y="0" font-size="24.3">0</tspan></text>
<circle cx="1824.25" cy="1044.25" r="6.65" fill="#D1D3D4" stroke="#231F20" stroke-width="2.9"/>
<circle cx="1835" cy="1036" r="6.65" fill="#D1D3D4" stroke="#231F20" stroke-width="2.9"/>
<circle cx="1813.25" cy="1154.5" r="6.65" fill="#D1D3D4" stroke="#231F20" stroke-width="2.9"/>
<circle cx="1845.75" cy="1154.5" r="6.65" fill="#D1D3D4" stroke="#231F20" stroke-width="2.9"/>
<circle cx="1835" cy="1154.5" r="6.65" fill="#D1D3D4" stroke="#231F20" stroke-width="2.9"/>
<circle cx="1824.25" cy="1146" r="6.65" fill="#D1D3D4" stroke="#231F20" stroke-width="2.9"/>
<circle cx="1886.25" cy="1112.25" r="6.65" fill="#D1D3D4" stroke="#231F20" stroke-width="2.9"/>
<circle cx="1886.25" cy="1137.75" r="6.65" fill="#D1D3D4" stroke="#231F20" stroke-width="2.9"/>
<circle cx="1875.5" cy="1134.25" r="6.65" fill="#D1D3D4" stroke="#231F20" stroke-width="2.9"/>
<circle cx="1897.5" cy="1133.5" r="6.65" fill="#D1D3D4" stroke="#231F20" stroke-width="2.9"/>
<circle cx="1908.75" cy="1128.5" r="6.65" fill="#D1D3D4" stroke="#231F20" stroke-width="2.9"/>
<circle cx="1886.25" cy="1154.5" r="6.65" fill="#D1D3D4" stroke="#231F20" stroke-width="2.9"/>
<circle cx="1949.5" cy="1146" r="6.65" fill="#D1D3D4" stroke="#231F20" stroke-width="2.9"/>
<circle cx="1971.2" cy="1151" r="6.65" fill="#D1D3D4" stroke="#231F20" stroke-width="2.9"/>
<circle cx="1938.75" cy="1154.5" r="6.65" fill="#D1D3D4" stroke="#231F20" stroke-width="2.9"/>
<circle cx="1960.5" cy="1154.5" r="6.65" fill="#D1D3D4" stroke="#231F20" stroke-width="2.9"/>
<circle cx="1938.75" cy="1139.8" r="6.65" fill="#D1D3D4" stroke="#231F20" stroke-width="2.9"/>
<circle cx="1960.5" cy="1139.2" r="6.65" fill="#D1D3D4" stroke="#231F20" stroke-width="2.9"/>
<text transform="translate(1899.33 890.55) scale(1.0000 1.0900)" xml:space="preserve"><tspan x="0" y="0" font-size="22.9">0.041</tspan></text>
<line x1="1899.25" y1="895.25" x2="1958" y2="895.25" stroke="#231F20" stroke-width="2.9" stroke-linecap="butt"/>
<path d="M246.3 921.9 A133.6 133.6 0 1 1 233.73 1188.51 L240 1122.1 A66.9 66.9 0 1 0 246.3 988.6 Z" fill="#E9EAEB" stroke="#231F20" stroke-width="1.7" stroke-linejoin="round"/>
<path d="M233.73 1188.51 A133.6 133.6 0 0 1 237.91 922.16 L242.1 988.73 A66.9 66.9 0 0 0 240 1122.1 Z" fill="#EC2027" stroke="#231F20" stroke-width="1.7" stroke-linejoin="round"/>
<path d="M237.91 922.16 A133.6 133.6 0 0 1 246.3 921.9 L246.3 988.6 A66.9 66.9 0 0 0 242.1 988.73 Z" fill="#2B3990" stroke="#231F20" stroke-width="1.7" stroke-linejoin="round"/>
<path d="M550.3 921 A133.8 133.8 0 1 1 426.21 1004.76 L488.25 1029.78 A66.9 66.9 0 1 0 550.3 987.9 Z" fill="#E9EAEB" stroke="#231F20" stroke-width="1.7" stroke-linejoin="round"/>
<path d="M426.21 1004.76 A133.8 133.8 0 0 1 544.42 921.13 L547.36 987.96 A66.9 66.9 0 0 0 488.25 1029.78 Z" fill="#EC2027" stroke="#231F20" stroke-width="1.7" stroke-linejoin="round"/>
<path d="M544.42 921.13 A133.8 133.8 0 0 1 550.3 921 L550.3 987.9 A66.9 66.9 0 0 0 547.36 987.96 Z" fill="#2B3990" stroke="#231F20" stroke-width="1.7" stroke-linejoin="round"/>
<path d="M854.2 921 A133.8 133.8 0 0 1 957.29 1140.09 L905.75 1097.44 A66.9 66.9 0 0 0 854.2 987.9 Z" fill="#E9EAEB" stroke="#231F20" stroke-width="1.7" stroke-linejoin="round"/>
<path d="M957.29 1140.09 A133.8 133.8 0 1 1 853.36 921 L853.78 987.9 A66.9 66.9 0 1 0 905.75 1097.44 Z" fill="#EC2027" stroke="#231F20" stroke-width="1.7" stroke-linejoin="round"/>
<path d="M853.36 921 A133.8 133.8 0 0 1 854.2 921 L854.2 987.9 A66.9 66.9 0 0 0 853.78 987.9 Z" fill="#2B3990" stroke="#231F20" stroke-width="1.7" stroke-linejoin="round"/>
<text transform="translate(220.61 861.4) scale(1.0000 1.0000)" xml:space="preserve"><tspan x="0" y="0" font-size="27.5">1.0%</tspan></text>
<text transform="translate(529.88 861.4) scale(1.0000 1.0000)" xml:space="preserve"><tspan x="0" y="0" font-size="27.5">0.7%</tspan></text>
<text transform="translate(829.18 861.4) scale(1.0000 1.0000)" xml:space="preserve"><tspan x="0" y="0" font-size="27.5">0.1%</tspan></text>
<line x1="243.6" y1="870.8" x2="243.6" y2="911" stroke="#231F20" stroke-width="1.7" stroke-linecap="butt"/>
<line x1="552.8" y1="870.8" x2="552.8" y2="911" stroke="#231F20" stroke-width="1.7" stroke-linecap="butt"/>
<line x1="852.6" y1="870.8" x2="852.6" y2="911" stroke="#231F20" stroke-width="1.7" stroke-linecap="butt"/>
<text transform="translate(147.76 987.6) scale(1.0000 1.0000)" xml:space="preserve"><tspan x="0" y="0" font-size="27.5">47.5%</tspan></text>
<text transform="translate(258.47 983.8) scale(1.0000 1.0000)" xml:space="preserve"><tspan x="0" y="0" font-size="27.5">51.5%</tspan></text>
<text transform="translate(460.23 979) scale(1.0000 1.0000)" xml:space="preserve"><tspan x="0" y="0" font-size="27.5">18.2%</tspan></text>
<text transform="translate(517.38 1157.6) scale(1.0000 1.0000)" xml:space="preserve"><tspan x="0" y="0" font-size="27.5">81.1%</tspan></text>
<text transform="translate(869.45 982.5) scale(1.0000 1.0000)" xml:space="preserve"><tspan x="0" y="0" font-size="27.5">36.0%</tspan></text>
<text transform="translate(819.78 1158.3) scale(1.0000 1.0000)" xml:space="preserve"><tspan x="0" y="0" font-size="27.5">63.9%</tspan></text>
<text transform="translate(220.87 1043.8) scale(1.0000 1.0000)" xml:space="preserve"><tspan x="0" y="0" font-size="30.8">WT</tspan></text>
<text transform="translate(210.93 1081.8) scale(1.0000 1.0000)" xml:space="preserve"><tspan x="0" y="0" font-size="30.8">HDM</tspan></text>
<text transform="translate(529.21 1043.8) scale(1.0000 1.0000)" xml:space="preserve"><tspan x="0" y="0" font-size="30.8">KO</tspan></text>
<text transform="translate(515.53 1081.8) scale(1.0000 1.0000)" xml:space="preserve"><tspan x="0" y="0" font-size="30.8">HDM</tspan></text>
<text transform="translate(833.71 1023) scale(1.0000 1.0000)" xml:space="preserve"><tspan x="0" y="0" font-size="30.8">KO</tspan></text>
<text transform="translate(820.13 1056.6) scale(1.0000 1.0000)" xml:space="preserve"><tspan x="0" y="0" font-size="30.8">HDM</tspan></text>
<text transform="translate(796.46 1086.2) scale(1.0000 1.0000)" xml:space="preserve"><tspan x="0" y="0" font-size="27.4">anti-IFN&#947;</tspan></text>
<text transform="translate(29.74 1197.7) scale(1.0000 1.0000)" style="fill:#000" xml:space="preserve"><tspan x="0" y="0" font-size="30.3">% cytokine</tspan></text>
<text transform="translate(75.71 1234.75) scale(1.0000 1.0000)" style="fill:#000" xml:space="preserve"><tspan x="0" y="0" font-size="30.3">of total:</tspan></text>
<text transform="translate(212.1 1235) scale(1.0000 1.0000)" style="fill:#000" xml:space="preserve"><tspan x="0" y="0" font-size="30.3">42.7%</tspan></text>
<text transform="translate(521.1 1235) scale(1.0000 1.0000)" style="fill:#000" xml:space="preserve"><tspan x="0" y="0" font-size="30.3">48.4%</tspan></text>
<text transform="translate(828.34 1235) scale(1.0000 1.0000)" style="fill:#000" xml:space="preserve"><tspan x="0" y="0" font-size="30.3">50.5%</tspan></text>
<rect x="367.15" y="1275.75" width="42.3" height="22.7" fill="#E9EAEB" stroke="#231F20" stroke-width="1.7"/>
<rect x="510.25" y="1277.75" width="42.1" height="22.5" fill="#EC2027" stroke="#231F20" stroke-width="1.7"/>
<rect x="651.35" y="1277.75" width="42.1" height="22.5" fill="#2B3990" stroke="#231F20" stroke-width="1.7"/>
<text transform="translate(425.76 1300.9) scale(1.0000 1.0000)" xml:space="preserve"><tspan x="0" y="0" font-size="32.7">Tc1</tspan></text>
<text transform="translate(567.94 1302.6) scale(1.0000 1.0000)" xml:space="preserve"><tspan x="0" y="0" font-size="34">Tc2</tspan></text>
<text transform="translate(709.24 1302.6) scale(1.0000 1.0000)" xml:space="preserve"><tspan x="0" y="0" font-size="34">Tc17</tspan></text>
</svg>
</body>
</html>
